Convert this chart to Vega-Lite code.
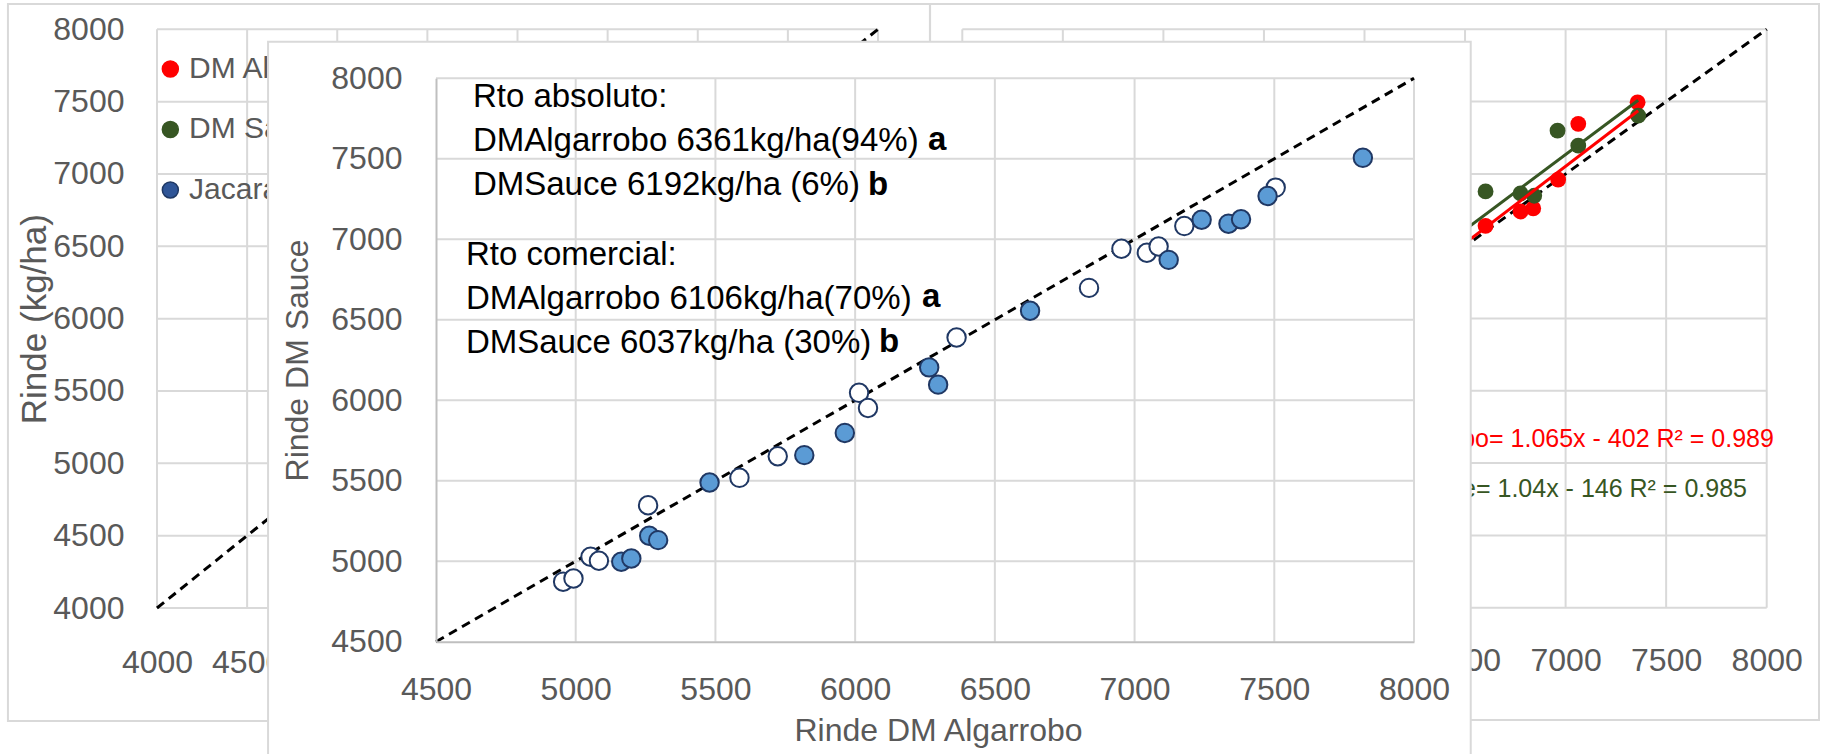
{
  "$schema": "https://vega.github.io/schema/vega-lite/v6.json",
  "width": 1825,
  "height": 754,
  "autosize": "none",
  "padding": 0,
  "background": "white",
  "config": {"view": {"stroke": null}},
  "datasets": {
    "one": [{"k": 1}],
    "grid": [{"g": 4000}, {"g": 4500}, {"g": 5000}, {"g": 5500}, {"g": 6000}, {"g": 6500}, {"g": 7000}, {"g": 7500}, {"g": 8000}],
    "legendA": [{"serie": "DM Algarrobo"}, {"serie": "DM Sauce"}, {"serie": "Jacarandá"}],
    "jac": [
      {"serie": "DM Algarrobo", "jacaranda": 7358, "rinde": 7495},
      {"serie": "DM Algarrobo", "jacaranda": 7063, "rinde": 7346},
      {"serie": "DM Algarrobo", "jacaranda": 6963, "rinde": 6960},
      {"serie": "DM Algarrobo", "jacaranda": 6776, "rinde": 6740},
      {"serie": "DM Algarrobo", "jacaranda": 6839, "rinde": 6761},
      {"serie": "DM Algarrobo", "jacaranda": 6602, "rinde": 6641},
      {"serie": "DM Sauce", "jacaranda": 7361, "rinde": 7403},
      {"serie": "DM Sauce", "jacaranda": 7063, "rinde": 7195},
      {"serie": "DM Sauce", "jacaranda": 6960, "rinde": 7299},
      {"serie": "DM Sauce", "jacaranda": 6776, "rinde": 6865},
      {"serie": "DM Sauce", "jacaranda": 6844, "rinde": 6849},
      {"serie": "DM Sauce", "jacaranda": 6602, "rinde": 6879}
    ],
    "trend": [
      {"serie": "DM Algarrobo", "jacaranda": 6300, "rinde": 6308},
      {"serie": "DM Algarrobo", "jacaranda": 7361, "rinde": 7437},
      {"serie": "DM Sauce", "jacaranda": 6300, "rinde": 6406},
      {"serie": "DM Sauce", "jacaranda": 7361, "rinde": 7509}
    ],
    "sauce": [
      {"tipo": "Rto comercial", "algarrobo": 4955, "sauce": 4873},
      {"tipo": "Rto comercial", "algarrobo": 4992, "sauce": 4893},
      {"tipo": "Rto comercial", "algarrobo": 5053, "sauce": 5028},
      {"tipo": "Rto comercial", "algarrobo": 5083, "sauce": 5003},
      {"tipo": "Rto comercial", "algarrobo": 5259, "sauce": 5348},
      {"tipo": "Rto comercial", "algarrobo": 5586, "sauce": 5518},
      {"tipo": "Rto comercial", "algarrobo": 5723, "sauce": 5652},
      {"tipo": "Rto comercial", "algarrobo": 6014, "sauce": 6046},
      {"tipo": "Rto comercial", "algarrobo": 6046, "sauce": 5952},
      {"tipo": "Rto comercial", "algarrobo": 6363, "sauce": 6390},
      {"tipo": "Rto comercial", "algarrobo": 6837, "sauce": 6698},
      {"tipo": "Rto comercial", "algarrobo": 6953, "sauce": 6941},
      {"tipo": "Rto comercial", "algarrobo": 7044, "sauce": 6916},
      {"tipo": "Rto comercial", "algarrobo": 7086, "sauce": 6955},
      {"tipo": "Rto comercial", "algarrobo": 7178, "sauce": 7082},
      {"tipo": "Rto comercial", "algarrobo": 7505, "sauce": 7321},
      {"tipo": "Rto absoluto", "algarrobo": 5163, "sauce": 4997},
      {"tipo": "Rto absoluto", "algarrobo": 5199, "sauce": 5017},
      {"tipo": "Rto absoluto", "algarrobo": 5263, "sauce": 5158},
      {"tipo": "Rto absoluto", "algarrobo": 5295, "sauce": 5131},
      {"tipo": "Rto absoluto", "algarrobo": 5479, "sauce": 5489},
      {"tipo": "Rto absoluto", "algarrobo": 5818, "sauce": 5659},
      {"tipo": "Rto absoluto", "algarrobo": 5963, "sauce": 5797},
      {"tipo": "Rto absoluto", "algarrobo": 6297, "sauce": 6097},
      {"tipo": "Rto absoluto", "algarrobo": 6265, "sauce": 6204},
      {"tipo": "Rto absoluto", "algarrobo": 6626, "sauce": 6556},
      {"tipo": "Rto absoluto", "algarrobo": 7122, "sauce": 6872},
      {"tipo": "Rto absoluto", "algarrobo": 7240, "sauce": 7121},
      {"tipo": "Rto absoluto", "algarrobo": 7336, "sauce": 7097},
      {"tipo": "Rto absoluto", "algarrobo": 7381, "sauce": 7124},
      {"tipo": "Rto absoluto", "algarrobo": 7476, "sauce": 7269},
      {"tipo": "Rto absoluto", "algarrobo": 7817, "sauce": 7506}
    ]
  },
  "resolve": {
    "scale": {"x": "independent", "y": "independent", "color": "independent", "fill": "independent", "stroke": "independent", "yOffset": "independent"},
    "axis": {"x": "independent", "y": "independent"}
  },
  "layer": [
    {
      "data": {"name": "one"},
      "mark": {"type": "rect", "fill": "white", "fillOpacity": 0, "stroke": "#D9D9D9", "strokeWidth": 2},
      "encoding": {
        "x": {"datum": 3839, "type": "quantitative", "scale": {"domain": [4000, 8000], "range": [962.3, 1766.7], "zero": false, "nice": false}, "axis": null},
        "x2": {"datum": 8260},
        "y": {"datum": 8175, "type": "quantitative", "scale": {"domain": [4000, 8000], "range": [607.7, 29.3], "zero": false, "nice": false}, "axis": null},
        "y2": {"datum": 3223}
      }
    },
    {
      "data": {"name": "grid"},
      "mark": {"type": "rule", "color": "#D9D9D9", "strokeWidth": 2},
      "encoding": {
        "x": {"field": "g", "type": "quantitative", "scale": {"domain": [4000, 8000], "range": [962.3, 1766.7], "zero": false, "nice": false},
          "axis": {"orient": "bottom", "offset": -146.3, "values": [6500, 7000, 7500, 8000], "format": "d", "title": null, "domain": false, "ticks": false, "tickSize": 0, "grid": false, "labelFont": "Liberation Sans", "labelFontSize": 32, "labelColor": "#595959", "labelPadding": 38, "labelFlush": false, "labelOverlap": false, "zindex": 0}},
        "y": {"datum": 4000, "type": "quantitative", "scale": {"domain": [4000, 8000], "range": [607.7, 29.3], "zero": false, "nice": false}, "axis": null},
        "y2": {"datum": 8000}
      }
    },
    {
      "data": {"name": "grid"},
      "mark": {"type": "rule", "color": "#D9D9D9", "strokeWidth": 2},
      "encoding": {
        "y": {"field": "g", "type": "quantitative", "scale": {"domain": [4000, 8000], "range": [607.7, 29.3], "zero": false, "nice": false}, "axis": null},
        "x": {"datum": 4000, "type": "quantitative", "scale": {"domain": [4000, 8000], "range": [962.3, 1766.7], "zero": false, "nice": false}, "axis": null},
        "x2": {"datum": 8000}
      }
    },
    {
      "data": {"name": "one"},
      "mark": {"type": "rule", "color": "black", "strokeWidth": 3, "strokeDash": [9, 6]},
      "encoding": {
        "x": {"datum": 4000, "type": "quantitative", "scale": {"domain": [4000, 8000], "range": [962.3, 1766.7], "zero": false, "nice": false}, "axis": null},
        "y": {"datum": 4000, "type": "quantitative", "scale": {"domain": [4000, 8000], "range": [607.7, 29.3], "zero": false, "nice": false}, "axis": null},
        "x2": {"datum": 8000},
        "y2": {"datum": 8000}
      }
    },
    {
      "data": {"name": "jac"},
      "mark": {"type": "point", "filled": true, "size": 250, "opacity": 1},
      "encoding": {
        "x": {"field": "jacaranda", "type": "quantitative", "scale": {"domain": [4000, 8000], "range": [962.3, 1766.7], "zero": false, "nice": false}, "axis": null},
        "y": {"field": "rinde", "type": "quantitative", "scale": {"domain": [4000, 8000], "range": [607.7, 29.3], "zero": false, "nice": false}, "axis": null},
        "color": {"field": "serie", "type": "nominal", "scale": {"domain": ["DM Algarrobo", "DM Sauce"], "range": ["#FF0000", "#375623"]}, "legend": null}
      }
    },
    {
      "data": {"name": "trend"},
      "mark": {"type": "line", "strokeWidth": 3},
      "encoding": {
        "x": {"field": "jacaranda", "type": "quantitative", "scale": {"domain": [4000, 8000], "range": [962.3, 1766.7], "zero": false, "nice": false}, "axis": null},
        "y": {"field": "rinde", "type": "quantitative", "scale": {"domain": [4000, 8000], "range": [607.7, 29.3], "zero": false, "nice": false}, "axis": null},
        "color": {"field": "serie", "type": "nominal", "scale": {"domain": ["DM Algarrobo", "DM Sauce"], "range": ["#FF0000", "#375623"]}, "legend": null}
      }
    },
    {
      "data": {"name": "one"},
      "mark": {"type": "text", "text": "DM Algarrobo= 1.065x - 402 R² = 0.989", "align": "right", "baseline": "middle", "font": "Liberation Sans", "fontSize": 25, "color": "#FF0000"},
      "encoding": {
        "x": {"datum": 8036, "type": "quantitative", "scale": {"domain": [4000, 8000], "range": [962.3, 1766.7], "zero": false, "nice": false}, "axis": null},
        "y": {"datum": 5167, "type": "quantitative", "scale": {"domain": [4000, 8000], "range": [607.7, 29.3], "zero": false, "nice": false}, "axis": null}
      }
    },
    {
      "data": {"name": "one"},
      "mark": {"type": "text", "text": "DM Sauce= 1.04x - 146 R² = 0.985", "align": "right", "baseline": "middle", "font": "Liberation Sans", "fontSize": 25, "color": "#375623"},
      "encoding": {
        "x": {"datum": 7902, "type": "quantitative", "scale": {"domain": [4000, 8000], "range": [962.3, 1766.7], "zero": false, "nice": false}, "axis": null},
        "y": {"datum": 4821, "type": "quantitative", "scale": {"domain": [4000, 8000], "range": [607.7, 29.3], "zero": false, "nice": false}, "axis": null}
      }
    },
    {
      "data": {"name": "one"},
      "mark": {"type": "rect", "fill": "white", "fillOpacity": 0, "stroke": "#D9D9D9", "strokeWidth": 2},
      "encoding": {
        "x": {"datum": 3173, "type": "quantitative", "scale": {"domain": [4000, 8000], "range": [157, 878], "zero": false, "nice": false}, "axis": null},
        "x2": {"datum": 8289},
        "y": {"datum": 8175, "type": "quantitative", "scale": {"domain": [4000, 8000], "range": [608, 29.3], "zero": false, "nice": false}, "axis": null},
        "y2": {"datum": 3219}
      }
    },
    {
      "data": {"name": "grid"},
      "mark": {"type": "rule", "color": "#D9D9D9", "strokeWidth": 2},
      "encoding": {
        "x": {"field": "g", "type": "quantitative", "scale": {"domain": [4000, 8000], "range": [157, 878], "zero": false, "nice": false},
          "axis": {"orient": "bottom", "offset": -146, "values": [4000, 4500], "format": "d", "title": null, "domain": false, "ticks": false, "tickSize": 0, "grid": false, "labelFont": "Liberation Sans", "labelFontSize": 32, "labelColor": "#595959", "labelPadding": 39, "labelFlush": false, "labelOverlap": false, "zindex": 0}},
        "y": {"datum": 4000, "type": "quantitative", "scale": {"domain": [4000, 8000], "range": [608, 29.3], "zero": false, "nice": false}, "axis": null},
        "y2": {"datum": 8000}
      }
    },
    {
      "data": {"name": "grid"},
      "mark": {"type": "rule", "color": "#D9D9D9", "strokeWidth": 2},
      "encoding": {
        "y": {"field": "g", "type": "quantitative", "scale": {"domain": [4000, 8000], "range": [608, 29.3], "zero": false, "nice": false},
          "axis": {"orient": "left", "offset": -157, "values": [4000, 4500, 5000, 5500, 6000, 6500, 7000, 7500, 8000], "format": "d", "title": "Rinde (kg/ha)", "titleFont": "Liberation Sans", "titleFontSize": 35, "titleFontWeight": "normal", "titleColor": "#595959", "titlePadding": 0, "domain": false, "ticks": false, "tickSize": 0, "grid": false, "labelFont": "Liberation Sans", "labelFontSize": 32, "labelColor": "#595959", "labelPadding": 33, "labelFlush": false, "labelOverlap": false, "zindex": 0}},
        "x": {"datum": 4000, "type": "quantitative", "scale": {"domain": [4000, 8000], "range": [157, 878], "zero": false, "nice": false}, "axis": null},
        "x2": {"datum": 8000}
      }
    },
    {
      "data": {"name": "one"},
      "mark": {"type": "rule", "color": "black", "strokeWidth": 3, "strokeDash": [9, 6]},
      "encoding": {
        "x": {"datum": 4000, "type": "quantitative", "scale": {"domain": [4000, 8000], "range": [157, 878], "zero": false, "nice": false}, "axis": null},
        "y": {"datum": 4000, "type": "quantitative", "scale": {"domain": [4000, 8000], "range": [608, 29.3], "zero": false, "nice": false}, "axis": null},
        "x2": {"datum": 8000},
        "y2": {"datum": 8000}
      }
    },
    {
      "data": {"name": "legendA"},
      "mark": {"type": "point", "filled": true, "size": 256, "strokeWidth": 1.5, "opacity": 1},
      "encoding": {
        "x": {"datum": 4074, "type": "quantitative", "scale": {"domain": [4000, 8000], "range": [157, 878], "zero": false, "nice": false}, "axis": null},
        "y": {"datum": 7726, "type": "quantitative", "scale": {"domain": [4000, 8000], "range": [608, 29.3], "zero": false, "nice": false}, "axis": null},
        "yOffset": {"field": "serie", "type": "nominal", "sort": null, "scale": {"type": "point", "range": [0, 121], "padding": 0}},
        "fill": {"field": "serie", "type": "nominal", "scale": {"domain": ["DM Algarrobo", "DM Sauce", "Jacarandá"], "range": ["#FF0000", "#375623", "#2F5597"]}, "legend": null},
        "stroke": {"field": "serie", "type": "nominal", "scale": {"domain": ["DM Algarrobo", "DM Sauce", "Jacarandá"], "range": ["#FF0000", "#375623", "#1F3864"]}, "legend": null}
      }
    },
    {
      "data": {"name": "legendA"},
      "mark": {"type": "text", "align": "left", "baseline": "middle", "font": "Liberation Sans", "fontSize": 30, "color": "#595959", "limit": 103, "ellipsis": " "},
      "encoding": {
        "x": {"datum": 4178, "type": "quantitative", "scale": {"domain": [4000, 8000], "range": [157, 878], "zero": false, "nice": false}, "axis": null},
        "y": {"datum": 7726, "type": "quantitative", "scale": {"domain": [4000, 8000], "range": [608, 29.3], "zero": false, "nice": false}, "axis": null},
        "yOffset": {"field": "serie", "type": "nominal", "sort": null, "scale": {"type": "point", "range": [0, 121], "padding": 0}},
        "text": {"field": "serie", "type": "nominal"}
      }
    },
    {
      "data": {"name": "one"},
      "mark": {"type": "rect", "fill": "white", "stroke": "#D9D9D9", "strokeWidth": 2},
      "encoding": {
        "x": {"datum": 3899, "type": "quantitative", "scale": {"domain": [4500, 8000], "range": [436, 1414], "zero": false, "nice": false}, "axis": null},
        "x2": {"datum": 8203},
        "y": {"datum": 8227, "type": "quantitative", "scale": {"domain": [4500, 8000], "range": [641.7, 78.3], "zero": false, "nice": false}, "axis": null},
        "y2": {"datum": 3703}
      }
    },
    {
      "data": {"name": "grid"},
      "transform": [{"filter": "datum.g > 4500"}],
      "mark": {"type": "rule", "color": "#D9D9D9", "strokeWidth": 2},
      "encoding": {
        "x": {"field": "g", "type": "quantitative", "scale": {"domain": [4500, 8000], "range": [436, 1414], "zero": false, "nice": false},
          "axis": {"orient": "bottom", "offset": -112.3, "values": [4500, 5000, 5500, 6000, 6500, 7000, 7500, 8000], "format": "d", "title": "Rinde DM Algarrobo", "titleX": 938, "titleFont": "Liberation Sans", "titleFontSize": 32, "titleFontWeight": "normal", "titleColor": "#595959", "titlePadding": 10, "domain": true, "domainColor": "#BFBFBF", "domainWidth": 2, "ticks": false, "tickSize": 0, "grid": false, "labelFont": "Liberation Sans", "labelFontSize": 32, "labelColor": "#595959", "labelPadding": 33, "labelFlush": false, "labelOverlap": false, "zindex": 1}},
        "y": {"datum": 4500, "type": "quantitative", "scale": {"domain": [4500, 8000], "range": [641.7, 78.3], "zero": false, "nice": false}, "axis": null},
        "y2": {"datum": 8000}
      }
    },
    {
      "data": {"name": "grid"},
      "transform": [{"filter": "datum.g > 4500"}],
      "mark": {"type": "rule", "color": "#D9D9D9", "strokeWidth": 2},
      "encoding": {
        "y": {"field": "g", "type": "quantitative", "scale": {"domain": [4500, 8000], "range": [641.7, 78.3], "zero": false, "nice": false},
          "axis": {"orient": "left", "offset": -436, "values": [4500, 5000, 5500, 6000, 6500, 7000, 7500, 8000], "format": "d", "title": "Rinde DM Sauce", "titleFont": "Liberation Sans", "titleFontSize": 32, "titleFontWeight": "normal", "titleColor": "#595959", "titlePadding": 16, "domain": true, "domainColor": "#BFBFBF", "domainWidth": 2, "ticks": false, "tickSize": 0, "grid": false, "labelFont": "Liberation Sans", "labelFontSize": 32, "labelColor": "#595959", "labelPadding": 34, "labelFlush": false, "labelOverlap": false, "zindex": 1}},
        "x": {"datum": 4500, "type": "quantitative", "scale": {"domain": [4500, 8000], "range": [436, 1414], "zero": false, "nice": false}, "axis": null},
        "x2": {"datum": 8000}
      }
    },
    {
      "data": {"name": "one"},
      "mark": {"type": "rule", "color": "black", "strokeWidth": 3, "strokeDash": [9, 6]},
      "encoding": {
        "x": {"datum": 4500, "type": "quantitative", "scale": {"domain": [4500, 8000], "range": [436, 1414], "zero": false, "nice": false}, "axis": null},
        "y": {"datum": 4500, "type": "quantitative", "scale": {"domain": [4500, 8000], "range": [641.7, 78.3], "zero": false, "nice": false}, "axis": null},
        "x2": {"datum": 8000},
        "y2": {"datum": 8000}
      }
    },
    {
      "data": {"name": "sauce"},
      "mark": {"type": "point", "filled": true, "size": 340, "stroke": "#203864", "strokeWidth": 2, "opacity": 1},
      "encoding": {
        "x": {"field": "algarrobo", "type": "quantitative", "scale": {"domain": [4500, 8000], "range": [436, 1414], "zero": false, "nice": false}, "axis": null},
        "y": {"field": "sauce", "type": "quantitative", "scale": {"domain": [4500, 8000], "range": [641.7, 78.3], "zero": false, "nice": false}, "axis": null},
        "fill": {"field": "tipo", "type": "nominal", "scale": {"domain": ["Rto absoluto", "Rto comercial"], "range": ["#5B9BD5", "#FFFFFF"]}, "legend": null}
      }
    },
    {
      "data": {"name": "one"},
      "mark": {"type": "text", "text": ["Rto absoluto:", "DMAlgarrobo 6361kg/ha(94%)", "DMSauce 6192kg/ha (6%)"], "lineHeight": 44, "align": "left", "baseline": "middle", "font": "Liberation Sans", "fontSize": 33, "color": "black"},
      "encoding": {
        "x": {"datum": 4632, "type": "quantitative", "scale": {"domain": [4500, 8000], "range": [436, 1414], "zero": false, "nice": false}, "axis": null},
        "y": {"datum": 7884, "type": "quantitative", "scale": {"domain": [4500, 8000], "range": [641.7, 78.3], "zero": false, "nice": false}, "axis": null}
      }
    },
    {
      "data": {"name": "one"},
      "mark": {"type": "text", "text": ["Rto comercial:", "DMAlgarrobo 6106kg/ha(70%)", "DMSauce 6037kg/ha (30%)"], "lineHeight": 44, "align": "left", "baseline": "middle", "font": "Liberation Sans", "fontSize": 33, "color": "black"},
      "encoding": {
        "x": {"datum": 4607, "type": "quantitative", "scale": {"domain": [4500, 8000], "range": [436, 1414], "zero": false, "nice": false}, "axis": null},
        "y": {"datum": 6902, "type": "quantitative", "scale": {"domain": [4500, 8000], "range": [641.7, 78.3], "zero": false, "nice": false}, "axis": null}
      }
    },
    {
      "data": {"name": "one"},
      "mark": {"type": "text", "text": "a", "align": "left", "baseline": "middle", "font": "Liberation Sans", "fontSize": 33, "fontWeight": "bold", "color": "black"},
      "encoding": {
        "x": {"datum": 6261, "type": "quantitative", "scale": {"domain": [4500, 8000], "range": [436, 1414], "zero": false, "nice": false}, "axis": null},
        "y": {"datum": 7615, "type": "quantitative", "scale": {"domain": [4500, 8000], "range": [641.7, 78.3], "zero": false, "nice": false}, "axis": null}
      }
    },
    {
      "data": {"name": "one"},
      "mark": {"type": "text", "text": "b", "align": "left", "baseline": "middle", "font": "Liberation Sans", "fontSize": 33, "fontWeight": "bold", "color": "black"},
      "encoding": {
        "x": {"datum": 6046, "type": "quantitative", "scale": {"domain": [4500, 8000], "range": [436, 1414], "zero": false, "nice": false}, "axis": null},
        "y": {"datum": 7336, "type": "quantitative", "scale": {"domain": [4500, 8000], "range": [641.7, 78.3], "zero": false, "nice": false}, "axis": null}
      }
    },
    {
      "data": {"name": "one"},
      "mark": {"type": "text", "text": "a", "align": "left", "baseline": "middle", "font": "Liberation Sans", "fontSize": 33, "fontWeight": "bold", "color": "black"},
      "encoding": {
        "x": {"datum": 6239, "type": "quantitative", "scale": {"domain": [4500, 8000], "range": [436, 1414], "zero": false, "nice": false}, "axis": null},
        "y": {"datum": 6641, "type": "quantitative", "scale": {"domain": [4500, 8000], "range": [641.7, 78.3], "zero": false, "nice": false}, "axis": null}
      }
    },
    {
      "data": {"name": "one"},
      "mark": {"type": "text", "text": "b", "align": "left", "baseline": "middle", "font": "Liberation Sans", "fontSize": 33, "fontWeight": "bold", "color": "black"},
      "encoding": {
        "x": {"datum": 6085, "type": "quantitative", "scale": {"domain": [4500, 8000], "range": [436, 1414], "zero": false, "nice": false}, "axis": null},
        "y": {"datum": 6362, "type": "quantitative", "scale": {"domain": [4500, 8000], "range": [641.7, 78.3], "zero": false, "nice": false}, "axis": null}
      }
    }
  ]
}
